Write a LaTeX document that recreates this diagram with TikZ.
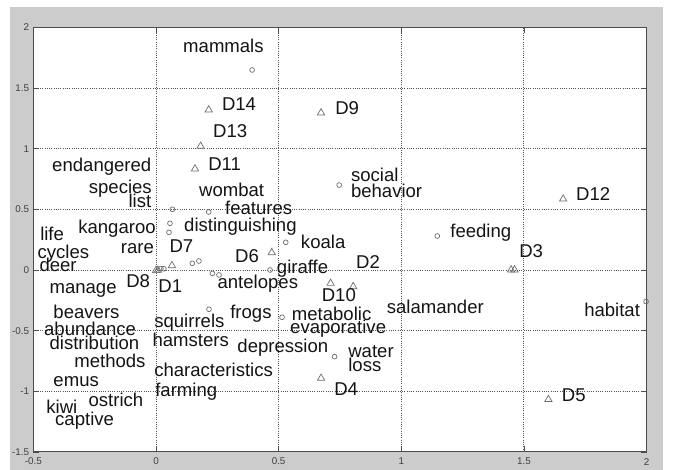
\documentclass[tikz,border=0pt]{standalone}
\usepackage{fontspec}
\setmainfont{Liberation Sans}
\usepackage{tikz}
\usepackage{xcolor}

\definecolor{framegray}{RGB}{204,204,204}
\definecolor{markgray}{RGB}{110,110,110}
\definecolor{gridgray}{RGB}{85,85,85}
\definecolor{inkblack}{RGB}{20,20,20}

\begin{document}
\begin{tikzpicture}[x=6.1325cm,y=3.0325cm,
  word/.style={anchor=mid west,inner sep=0pt,text=inkblack,font=\fontsize{13.2}{14}\selectfont},
  wordr/.style={word,anchor=mid east},
  ticklab/.style={inner sep=0pt,text=black!75,font=\fontsize{7}{8}\selectfont},
  gridline/.style={gridgray,line width=0.6pt,dash pattern=on 0.7pt off 0.9pt},
  dotmark/.style={markgray,line width=0.5pt}]
\useasboundingbox (-0.636,-1.649) rectangle (2.108,2.226);
\fill[framegray] (-0.595,-1.649) rectangle (2.067,2.168);
\fill[white] (-0.5,-1.5) rectangle (2,2);

% grid
\foreach \x in {0,0.5,1,1.5} \draw[gridline] (\x,-1.5) -- (\x,2);
\foreach \y in {-1,-0.5,0,0.5,1,1.5} \draw[gridline] (-0.5,\y) -- (2,\y);

% axes and ticks
\draw[black!70,line width=0.6pt] (-0.5,-1.5) rectangle (2,2);
\foreach \y in {-1.5,-1,...,2} {
  \draw[black!70,line width=0.5pt] (-0.5,\y) -- ++(4pt,0);
  \draw[black!70,line width=0.5pt] (2,\y) -- ++(-4pt,0);
}
\foreach \x in {-0.5,0,...,2} {
  \draw[black!70,line width=0.5pt] (\x,-1.5) -- ++(0,4pt);
  \draw[black!70,line width=0.5pt] (\x,2) -- ++(0,-4pt);
}
\foreach \y/\t [count=\i] in {2/2,1.5/1.5,1/1,0.5/0.5,0/0,-0.5/-0.5,-1/-1,-1.5/-1.5}
  \node[ticklab,anchor=east] (ty\i) at (-0.516,\y) {\t};
\foreach \x/\t [count=\i] in {-0.5/-0.5,0/0,0.5/0.5,1/1,1.5/1.5,2/2}
  \node[ticklab] (tx\i) at (\x,-1.58) {\t};

% term markers
\foreach \x/\y in {0.392/1.649,0.747/0.70,1.147/0.28,1.998/-0.26,0.728/-0.715,
  0.067/0.50,0.215/0.478,0.057/0.385,0.053/0.31,0.529/0.228,0.148/0.055,
  0.175/0.074,0.465/0.0,0.23/-0.028,0.257/-0.041,0.216/-0.324,0.514/-0.39,
  0.02/0.012,0.032/0.01}
  \draw[dotmark] (\x,\y) circle (0.06cm);

% document markers
\foreach \x/\y in {0.215/1.325,0.673/1.30,0.182/1.025,0.159/0.838,1.66/0.59,
  1.448/0.006,1.462/0.006,1.6/-1.063,0.804/-0.132,0.712/-0.105,0.673/-0.888,
  0.472/0.148,0.065/0.041,0.0/0.0,0.008/0.003}
  \draw[dotmark] (\x,\y) ++(0,2.6pt) -- ++(-2.6pt,-4.5pt) -- ++(5.2pt,0) -- cycle;

% documents
\node[word] (d14) at (0.268,1.346) {D14};
\node[word] (d13) at (0.232,1.119) {D13};
\node[word] (d11) at (0.212,0.852) {D11};
\node[word] (d9) at (0.730,1.311) {D9};
\node[word] (d12) at (1.712,0.604) {D12};
\node[word] (d3) at (1.480,0.132) {D3};
\node[word] (d2) at (0.815,0.041) {D2};
\node[word] (d10) at (0.675,-0.233) {D10};
\node[word] (d4) at (0.726,-1.003) {D4};
\node[word] (d5) at (1.654,-1.053) {D5};
\node[word] (d6) at (0.322,0.096) {D6};
\node[word] (d7) at (0.054,0.173) {D7};
\node[word] (d1) at (0.009,-0.151) {D1};
\node[word] (d8) at (-0.122,-0.110) {D8};

% terms
\node[word] (mammals) at (0.110,1.822) {mammals};
\node[wordr] (endangered) at (-0.018,0.843) {endangered};
\node[wordr] (species) at (-0.016,0.660) {species};
\node[wordr] (list) at (-0.018,0.544) {list};
\node[word] (wombat) at (0.175,0.637) {wombat};
\node[word] (features) at (0.281,0.489) {features};
\node[word] (distinguishing) at (0.114,0.349) {distinguishing};
\node[wordr] (kangaroo) at (0.0,0.330) {kangaroo};
\node[word] (life) at (-0.473,0.275) {life};
\node[word] (social) at (0.794,0.756) {social};
\node[word] (behavior) at (0.794,0.632) {behavior};
\node[word] (feeding) at (1.199,0.297) {feeding};
\node[word] (salamander) at (0.940,-0.330) {salamander};
\node[word] (habitat) at (1.745,-0.352) {habitat};
\node[word] (water) at (0.783,-0.687) {water};
\node[word] (loss) at (0.783,-0.805) {loss};
\node[word] (metabolic) at (0.553,-0.390) {metabolic};
\node[word] (evaporative) at (0.546,-0.495) {evaporative};
\node[word] (koala) at (0.590,0.206) {koala};
\node[word] (giraffe) at (0.492,0.0) {giraffe};
\node[word] (antelopes) at (0.250,-0.118) {antelopes};
\node[word] (rare) at (-0.144,0.165) {rare};
\node[word] (cycles) at (-0.484,0.124) {cycles};
\node[word] (deer) at (-0.476,0.014) {deer};
\node[word] (manage) at (-0.435,-0.165) {manage};
\node[word] (beavers) at (-0.419,-0.371) {beavers};
\node[word] (abundance) at (-0.457,-0.509) {abundance};
\node[word] (distribution) at (-0.435,-0.627) {distribution};
\node[word] (methods) at (-0.334,-0.775) {methods};
\node[word] (emus) at (-0.419,-0.929) {emus};
\node[word] (ostrich) at (-0.276,-1.099) {ostrich};
\node[word] (kiwi) at (-0.448,-1.154) {kiwi};
\node[word] (captive) at (-0.412,-1.251) {captive};
\node[word] (squirrels) at (-0.008,-0.445) {squirrels};
\node[word] (frogs) at (0.302,-0.371) {frogs};
\node[word] (hamsters) at (-0.015,-0.604) {hamsters};
\node[word] (depression) at (0.331,-0.646) {depression};
\node[word] (characteristics) at (-0.008,-0.847) {characteristics};
\node[word] (farming) at (-0.004,-1.016) {farming};
\end{tikzpicture}
\end{document}
